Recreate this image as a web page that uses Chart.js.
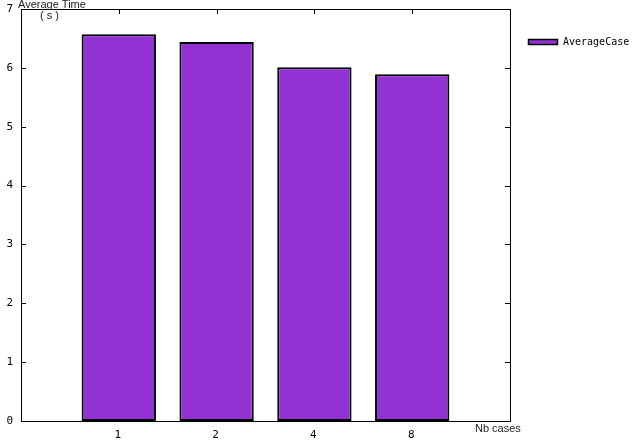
<!DOCTYPE html>
<html>
<head>
<meta charset="utf-8">
<script src="https://cdn.jsdelivr.net/npm/chart.js@4"></script>
<style>
  html, body { margin: 0; padding: 0; background: #fff; }
  #wrap { width: 632px; height: 448px; }
</style>
</head>
<body>
<div id="wrap"><canvas id="myChart" width="632" height="448"></canvas></div>
<script>
// data
var cases = ['1', '2', '4', '8'];
var averageCase = [6.57, 6.44, 6.01, 5.89];
var yTicks = [0, 1, 2, 3, 4, 5, 6, 7];
var seriesName = 'AverageCase';
var yTitle = ['Average Time', '( s )'];
var xTitle = 'Nb cases';

var barColor = '#9332d2';

// gnuplot-like frame, inward ticks, labels and key
var gnuplotLook = {
  id: 'gnuplotLook',
  afterDatasetsDraw: function(chart) {
    var c = chart.ctx;
    var a = chart.chartArea;
    var xs = chart.scales.x, ys = chart.scales.y;
    c.save();
    c.strokeStyle = '#000';
    c.lineWidth = 1;
    c.strokeRect(Math.round(a.left) + 0.5, Math.round(a.top) + 0.5,
                 Math.round(a.right - a.left), Math.round(a.bottom - a.top));

    c.beginPath();
    yTicks.forEach(function(v) {
      var py = Math.round(ys.getPixelForValue(v)) + 0.5;
      c.moveTo(a.left, py); c.lineTo(a.left + 5, py);
      c.moveTo(a.right, py); c.lineTo(a.right - 5, py);
    });
    cases.forEach(function(lab, i) {
      var px = Math.round(xs.getPixelForValue(i)) + 0.5;
      c.moveTo(px, a.top); c.lineTo(px, a.top + 5);
    });
    c.stroke();

    c.fillStyle = '#000';
    c.font = '11px "DejaVu Sans Mono"';
    c.textAlign = 'right';
    c.textBaseline = 'middle';
    yTicks.forEach(function(v) {
      c.fillText(String(v), a.left - 8, ys.getPixelForValue(v));
    });
    c.textAlign = 'center';
    cases.forEach(function(lab, i) {
      c.fillText(lab, xs.getPixelForValue(i) - 1, a.bottom + 14);
    });

    c.font = '11px "Liberation Sans"';
    c.fillStyle = '#222';
    c.textAlign = 'left';
    c.fillText(yTitle[0], 18, 5);
    c.fillText(yTitle[1], 40, 16);
    c.fillText(xTitle, a.right - 35, a.bottom + 8);

    // key
    c.fillStyle = barColor;
    c.fillRect(528.5, 39.5, 29, 5);
    c.lineWidth = 1.5;
    c.strokeRect(528.5, 39.5, 29, 5);
    c.fillStyle = '#000';
    c.font = '10px "DejaVu Sans Mono"';
    c.fillText(seriesName, 563, 42);
    c.restore();
  }
};

var ctx = document.getElementById('myChart');
var myChart = new Chart(ctx, {
  type: 'bar',
  data: {
    datasets: [
      {
        label: seriesName,
        data: averageCase.map(function(v, i) { return { x: i, y: v }; }),
        backgroundColor: barColor,
        borderColor: '#000',
        borderWidth: 2,
        borderSkipped: false,
        categoryPercentage: 1,
        barPercentage: 0.76
      }
    ]
  },
  options: {
    responsive: false,
    animation: false,
    devicePixelRatio: 1,
    layout: { padding: { left: 21, right: 122, top: 9, bottom: 27 } },
    plugins: { legend: { display: false }, tooltip: { enabled: false } },
    scales: {
      x: { type: 'linear', min: -1, max: 4, offset: false, display: false,
           grid: { offset: false }, ticks: { stepSize: 1 } },
      y: { min: 0, max: 7, display: false, ticks: { stepSize: 1 } }
    }
  },
  plugins: [gnuplotLook]
});
</script>
</body>
</html>
